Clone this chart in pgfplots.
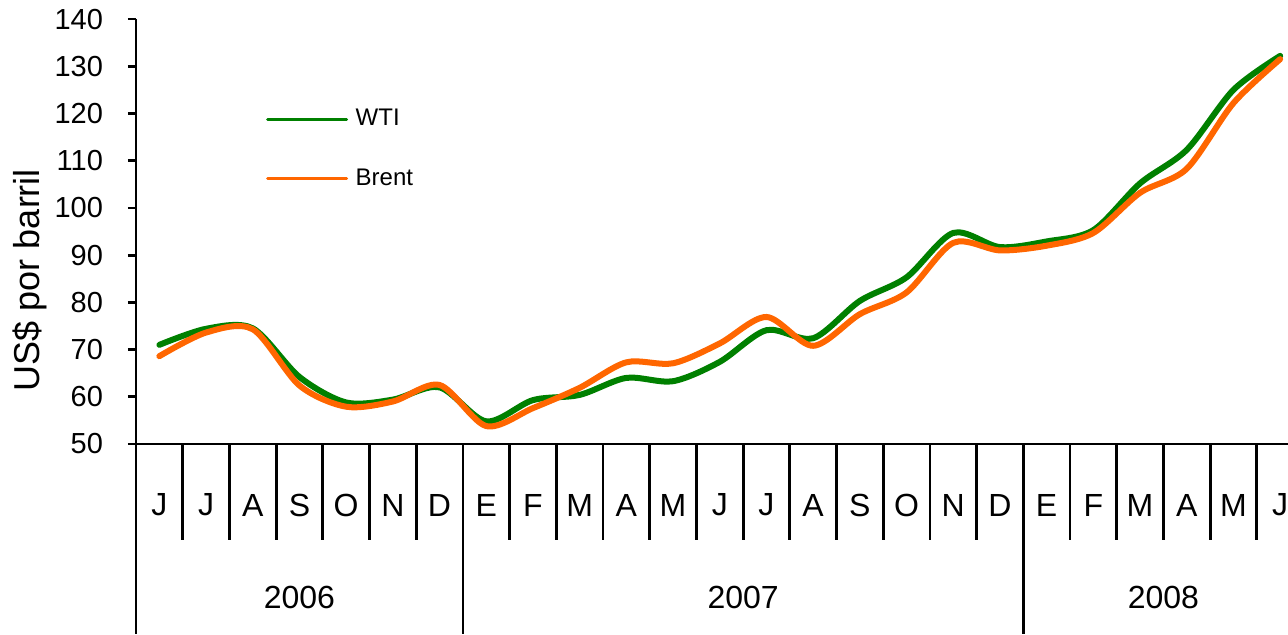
\documentclass[border=0pt]{standalone}
\usepackage{fontspec}
\setmainfont{Liberation Sans}
\usepackage{pgfplots}
\usepackage{pgfplotstable}
\pgfplotsset{compat=1.18}
\definecolor{wti}{RGB}{0,128,0}
\definecolor{brent}{RGB}{255,102,0}
\pgfplotstableread{
i wti brent
0 71.0 68.6
1 74.4 73.6
2 74.5 74.3
3 64.2 62.4
4 58.8 57.9
5 59.4 59.0
6 62.0 62.5
7 54.8 53.8
8 59.3 57.6
9 60.4 61.9
10 64.0 67.3
11 63.3 67.1
12 67.4 71.3
13 74.1 76.9
14 72.4 70.8
15 80.3 77.5
16 85.3 82.1
17 94.7 92.6
18 91.7 91.0
19 92.9 92.0
20 95.3 94.7
21 105.2 103.2
22 112.3 108.3
23 125.0 122.2
24 132.2 131.5
}\prices
\begin{document}
\begin{tikzpicture}
\begin{axis}[
  at={(0,0)}, anchor=south west,
  scale only axis, width=583.75pt, height=212.5pt,
  xmin=-0.5, xmax=24.5, ymin=50, ymax=140,
  axis x line=bottom, axis y line=left,
  axis line style={-, line width=1.4pt, black},
  ytick={50,60,...,140},
  tick align=outside, major tick length=4pt,
  ytick style={line width=1.4pt, black},
  xtick={0,...,24},
  xticklabels={J,J,A,S,O,N,D,E,F,M,A,M,J,J,A,S,O,N,D,E,F,M,A,M,J},
  xtick style={draw=none},
  yticklabel style={font=\fontsize{14.5}{17}\selectfont, xshift=-9pt},
  xticklabel style={font=\fontsize{16}{19}\selectfont, anchor=center, yshift=-26.5pt},
  /pgf/number format/assume math mode=true,
  clip=false,
  legend style={draw=none, fill=none, inner sep=0pt, row sep=16pt,
    font=\fontsize{12}{14}\selectfont, at={(axis cs:2.28,121.8)}, anchor=north west},
  legend cell align=left,
  legend image code/.code={\draw[line width=1.5pt] (0pt,0pt) -- (39.5pt,0pt); \path (40.5pt,0pt);},
]
\addplot[wti, line width=3pt, smooth, line cap=round] table[x=i, y=wti] {\prices};
\addlegendentry{WTI}
\addplot[brent, line width=3pt, smooth, line cap=round] table[x=i, y=brent] {\prices};
\addlegendentry{Brent}
\end{axis}
% category separators
\foreach \k in {1,...,24} \draw[line width=1.4pt] (\k*23.35pt,0) -- ++(0,-48pt);
\foreach \k in {0,7,19} \draw[line width=1.4pt] (\k*23.35pt,0) -- ++(0,-95pt);
\node[font=\fontsize{16}{19}\selectfont] at (81.725pt,-76.5pt) {2006};
\node[font=\fontsize{16}{19}\selectfont] at (303.55pt,-76.5pt) {2007};
\node[font=\fontsize{16}{19}\selectfont] at (513.7pt,-76.5pt) {2008};
\node[font=\fontsize{18}{21}\selectfont, rotate=90] at (-53pt,82pt) {US\$ por barril};
\pgfresetboundingbox
\useasboundingbox (-68pt,-95pt) rectangle (576pt,222pt);
\end{tikzpicture}
\end{document}
